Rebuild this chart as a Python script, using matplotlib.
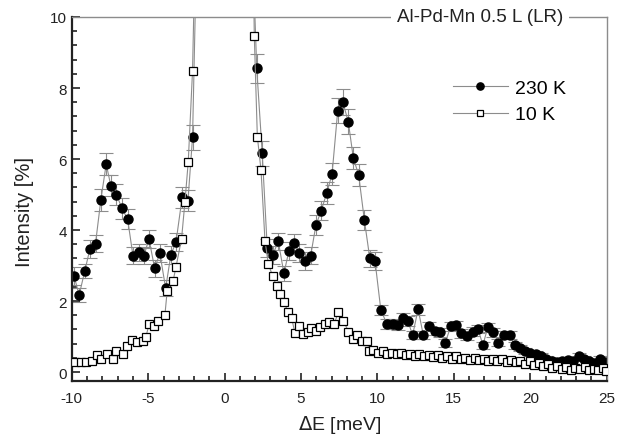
import matplotlib
matplotlib.use("Agg")
import matplotlib.pyplot as plt
from matplotlib.ticker import MultipleLocator

plt.rcParams['font.family'] = ['Liberation Sans', 'DejaVu Sans']
plt.rcParams['axes.unicode_minus'] = False

# 230 K data: energy transfer [meV], intensity [%], error
e_230 = [-9.85, -9.52, -9.15, -8.82, -8.45, -8.10, -7.75, -7.45, -7.08, -6.72,
         -6.35, -6.00, -5.62, -5.28, -4.95, -4.58, -4.24, -3.86, -3.52, -3.18,
         -2.78, -2.40, -2.10, -1.78, -1.45, -1.10, -0.75, -0.40, 0.00, 0.40,
         0.75, 1.10, 1.45, 1.78, 2.10, 2.46, 2.79, 3.15, 3.51, 3.88,
         4.21, 4.56, 4.89, 5.26, 5.63, 5.97, 6.32, 6.68, 7.03, 7.40,
         7.73, 8.09, 8.42, 8.77, 9.14, 9.50, 9.84, 10.22, 10.62, 11.00,
         11.32, 11.66, 11.98, 12.30, 12.66, 13.00, 13.40, 13.75, 14.10, 14.43,
         14.80, 15.15, 15.48, 15.85, 16.22, 16.58, 16.90, 17.22, 17.58, 17.92,
         18.28, 18.66, 19.00, 19.34, 19.68, 20.00, 20.35, 20.70, 21.05, 21.40,
         21.75, 22.10, 22.45, 22.80, 23.20, 23.50, 23.85, 24.20, 24.55, 24.90]
i_230 = [2.70, 2.17, 2.85, 3.46, 3.62, 4.85, 5.86, 5.25, 5.00, 4.61,
         4.31, 3.28, 3.37, 3.28, 3.75, 2.92, 3.35, 2.36, 3.30, 3.67,
         4.92, 4.83, 6.61, 13.0, 22.0, 40.0, 70.0, 95.0, 100.0, 95.0,
         70.0, 40.0, 22.0, 12.5, 8.55, 6.16, 3.49, 3.30, 3.68, 2.78,
         3.42, 3.63, 3.35, 3.12, 3.28, 4.13, 4.55, 5.04, 5.58, 7.36,
         7.61, 7.05, 6.03, 5.55, 4.29, 3.20, 3.13, 1.75, 1.35, 1.35,
         1.32, 1.51, 1.45, 1.04, 1.77, 1.04, 1.29, 1.16, 1.12, 0.82,
         1.29, 1.32, 1.09, 1.02, 1.14, 1.21, 0.76, 1.26, 1.12, 0.82,
         1.04, 1.04, 0.75, 0.67, 0.60, 0.55, 0.51, 0.45, 0.38, 0.30,
         0.28, 0.30, 0.35, 0.30, 0.46, 0.38, 0.30, 0.25, 0.37, 0.28]
err_230 = [0.25, 0.20, 0.20, 0.25, 0.25, 0.30, 0.30, 0.30, 0.30, 0.30,
           0.28, 0.25, 0.25, 0.25, 0.25, 0.25, 0.25, 0.22, 0.25, 0.25,
           0.30, 0.30, 0.35, 0.50, 0.60, 0.80, 1.00, 1.20, 1.20, 1.20,
           1.00, 0.80, 0.60, 0.50, 0.40, 0.35, 0.25, 0.25, 0.25, 0.22,
           0.25, 0.25, 0.25, 0.25, 0.25, 0.28, 0.28, 0.30, 0.30, 0.35,
           0.36, 0.35, 0.32, 0.30, 0.28, 0.25, 0.25, 0.15, 0.14, 0.14,
           0.14, 0.15, 0.14, 0.12, 0.15, 0.12, 0.13, 0.12, 0.12, 0.11,
           0.13, 0.13, 0.12, 0.12, 0.12, 0.12, 0.10, 0.12, 0.12, 0.10,
           0.11, 0.11, 0.10, 0.09, 0.09, 0.08, 0.08, 0.08, 0.07, 0.07,
           0.07, 0.07, 0.07, 0.07, 0.08, 0.07, 0.07, 0.06, 0.07, 0.06]

# 10 K data
e_10 = [-9.80, -9.43, -9.04, -8.65, -8.32, -8.06, -7.73, -7.33, -7.10, -6.64,
        -6.42, -6.03, -5.72, -5.37, -5.15, -4.94, -4.63, -4.35, -3.91, -3.76,
        -3.37, -3.19, -2.82, -2.60, -2.38, -2.10, -1.78, -1.45, -1.10, -0.75,
        -0.40, 0.00, 0.40, 0.75, 1.10, 1.45, 1.78, 1.94, 2.14, 2.38,
        2.64, 2.86, 3.14, 3.41, 3.62, 3.88, 4.17, 4.39, 4.60, 4.89,
        5.15, 5.48, 5.63, 5.98, 6.24, 6.57, 6.85, 7.16, 7.44, 7.77,
        8.10, 8.38, 8.64, 8.97, 9.30, 9.47, 9.73, 10.05, 10.35, 10.65,
        10.95, 11.25, 11.55, 11.85, 12.15, 12.45, 12.75, 13.05, 13.35, 13.65,
        13.95, 14.25, 14.55, 14.85, 15.15, 15.45, 15.75, 16.05, 16.35, 16.65,
        16.95, 17.25, 17.55, 17.85, 18.15, 18.45, 18.75, 19.05, 19.35, 19.65,
        19.95, 20.25, 20.55, 20.85, 21.15, 21.45, 21.75, 22.05, 22.35, 22.65,
        22.95, 23.25, 23.55, 23.85, 24.15, 24.45, 24.75, 24.95]
i_10 = [0.29, 0.27, 0.29, 0.30, 0.48, 0.37, 0.50, 0.37, 0.60, 0.51,
        0.74, 0.91, 0.84, 0.88, 1.00, 1.35, 1.30, 1.45, 1.60, 2.29,
        2.57, 2.95, 3.75, 4.78, 5.93, 8.49, 15.0, 30.0, 60.0, 90.0,
        110.0, 120.0, 110.0, 90.0, 60.0, 30.0, 15.0, 9.47, 6.63, 5.69,
        3.70, 3.04, 2.71, 2.41, 2.20, 1.96, 1.68, 1.51, 1.10, 1.30,
        1.07, 1.12, 1.23, 1.16, 1.26, 1.35, 1.40, 1.35, 1.68, 1.45,
        1.14, 0.93, 1.04, 0.88, 0.88, 0.60, 0.63, 0.55, 0.58, 0.50,
        0.55, 0.50, 0.54, 0.48, 0.52, 0.46, 0.50, 0.45, 0.49, 0.42,
        0.47, 0.40, 0.44, 0.37, 0.45, 0.38, 0.40, 0.35, 0.40, 0.33,
        0.38, 0.30, 0.36, 0.32, 0.38, 0.28, 0.33, 0.27, 0.30, 0.24,
        0.32, 0.20, 0.25, 0.18, 0.22, 0.12, 0.18, 0.10, 0.15, 0.06,
        0.12, 0.08, 0.13, 0.05, 0.10, 0.07, 0.12, 0.04]

fig = plt.figure(figsize=(6.3, 4.39), dpi=100)
ax = fig.add_axes([0.114, 0.130, 0.849, 0.829])

# error bars of the 230 K run, then the data with connecting lines
ax.errorbar(e_230, i_230, yerr=err_230, fmt='none', ecolor='#8c8c8c',
            elinewidth=0.8, capsize=5, capthick=0.8, zorder=1.5)
ax.plot(e_230, i_230, 'o-', color='#8c8c8c', lw=0.8, mfc='black', mec='black',
        ms=6.5, label='230 K', zorder=2)
ax.plot(e_10, i_10, 's-', color='#8c8c8c', lw=0.8, mfc='white', mec='black',
        mew=0.9, ms=6, label='10 K', zorder=3)

ax.set_xlim(-10, 25)
ax.set_ylim(-0.25, 10)
ax.xaxis.set_major_locator(MultipleLocator(5))
ax.xaxis.set_minor_locator(MultipleLocator(1))
ax.yaxis.set_major_locator(MultipleLocator(2))
ax.yaxis.set_minor_locator(MultipleLocator(0.4))
ax.tick_params(which='both', direction='in', top=False, right=False,
               width=1.2, colors='#222222', labelsize=11)
ax.tick_params(which='major', length=6)
ax.tick_params(axis='x', pad=7)
ax.tick_params(which='minor', length=3.5)

for side in ['left', 'bottom']:
    ax.spines[side].set_color('#222222')
    ax.spines[side].set_linewidth(1.6)
for side in ['top', 'right']:
    ax.spines[side].set_color('#8c8c8c')
    ax.spines[side].set_linewidth(1.0)

ax.set_xlabel(r'$\Delta$E [meV]', fontsize=14, color='#222222', labelpad=6)
ax.set_ylabel('Intensity [%]', fontsize=14.5, color='#222222')
ax.yaxis.set_label_coords(-0.07, 0.467)

ax.text(0.763, 1.0, 'Al-Pd-Mn 0.5 L (LR)', transform=ax.transAxes,
        ha='center', va='center', fontsize=13.5, color='#222222', zorder=5,
        bbox=dict(facecolor='white', edgecolor='none', pad=4))

leg = ax.legend(loc='upper left', bbox_to_anchor=(0.695, 0.855), frameon=False,
                fontsize=14, handlelength=2.8, handletextpad=0.35,
                labelspacing=0.45, borderpad=0, markerscale=0.8)

fig.savefig('out.png', dpi=100)
